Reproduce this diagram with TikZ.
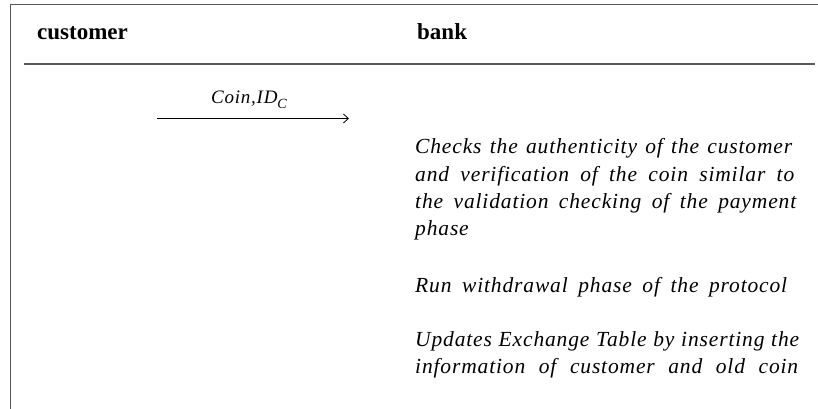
\documentclass[tikz,border=0pt]{standalone}
\usepackage{fontspec}
\setmainfont{Liberation Serif}
\newfontfamily\bodyfont[LetterSpace=4]{Liberation Serif}
\usetikzlibrary{arrows.meta}

% one stretched line of the bank's description, given its width in pt
\newcommand\txtline[2]{\makebox[#1pt][s]{#2}}

\tikzset{
  frame/.style={draw=black!65, line width=1.4pt},
  header/.style={anchor=base west, inner sep=0pt, font=\fontsize{23}{26}\selectfont\bfseries},
  stepline/.style={anchor=base west, inner sep=0pt, font=\fontsize{21.5}{24}\bodyfont\itshape},
  msgarrow/.style={draw=black, line width=0.8pt, -{Straight Barb[length=5pt,width=9pt,line width=0.8pt]}},
  msglabel/.style={anchor=base, inner sep=0pt, font=\fontsize{19}{22}\bodyfont\itshape}
}

\begin{document}
\begin{tikzpicture}[x=1pt,y=-1pt]
\useasboundingbox (0,0) rectangle (818,409);

% outer frame (top and left edges) and the header rule
\coordinate (frameTR) at (818,4.5);
\coordinate (frameTL) at (10.5,4.5);
\coordinate (frameBL) at (10.5,409);
\draw[frame] (frameTR) -- (frameTL) -- (frameBL);
\coordinate (ruleL) at (24,64);
\coordinate (ruleR) at (815,64);
\draw[frame] (ruleL) -- (ruleR);

% column headers
\node[header] (hcust) at (37,40) {customer};
\node[header] (hbank) at (417,40) {bank};

% message from customer to bank
\coordinate (msgS) at (157,118.5);
\coordinate (msgE) at (349,118.5);
\draw[msgarrow] (msgS) -- (msgE);
\node[msglabel] (msg) at (249,103) {Coin,ID\raisebox{-5pt}{\fontsize{14}{15}\selectfont C}};

% bank side actions
\node[stepline] (chk1) at (415,153.5) {\txtline{377}{Checks the authenticity of the customer}};
\node[stepline] (chk2) at (415,181) {\txtline{379}{and verification of the coin similar to}};
\node[stepline] (chk3) at (415,208) {\txtline{381}{the validation checking of the payment}};
\node[stepline] (chk4) at (415,235) {phase};
\node[stepline] (run) at (415,292) {\txtline{372}{Run withdrawal phase of the protocol}};
\node[stepline] (upd1) at (415,346) {\txtline{384}{Updates Exchange Table by inserting the}};
\node[stepline] (upd2) at (415,373) {\txtline{383}{information of customer and old coin}};
\end{tikzpicture}
\end{document}
